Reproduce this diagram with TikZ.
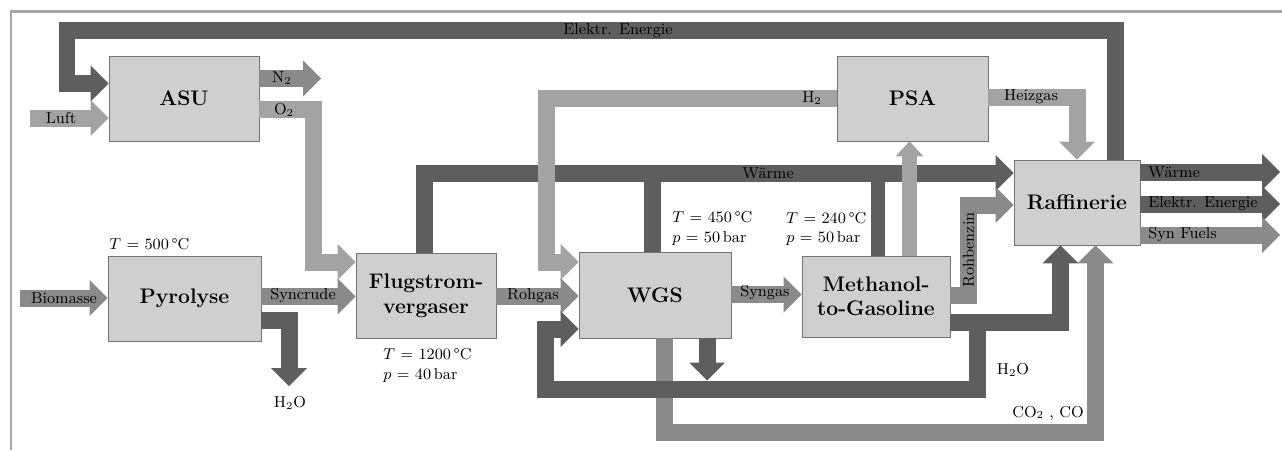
\documentclass[tikz,border=0pt]{standalone}
\usepackage{fontspec}
\usetikzlibrary{arrows.meta}
\tikzset{
  unit/.style = {draw=black!55, fill=black!19, font=\bfseries\large, align=center, inner sep=0pt},
  flow/.style = {line width=0.34cm, line join=miter},
  narrow/.style = {line width=0.28cm, line join=miter},
  dark/.style = {draw=black!63},
  mid/.style = {draw=black!46},
  light/.style = {draw=black!36},
  head/.style = {-{Triangle[width=0.72cm, length=0.36cm, line width=0pt]}},
  small head/.style = {-{Triangle[width=0.56cm, length=0.3cm, line width=0pt]}},
  lbl/.style = {font=\small, inner sep=0pt},
  cond/.style = {font=\small, inner sep=0pt, anchor=west, align=left},
}
\begin{document}
\begin{tikzpicture}[x = 0.02cm, y = -0.02cm]
	\useasboundingbox (0,0) rectangle (1282,450);
	\draw [black!35, line width=0.06cm] (11,450) |- (1282,11);
	% Anlagen
	\node [unit, minimum width=3cm, minimum height=1.7cm] (asu) at (184,98.5) {ASU};
	\node [unit, minimum width=3.06cm, minimum height=1.7cm] (pyr) at (184.5,298.5) {Pyrolyse};
	\node [unit, minimum width=2.8cm, minimum height=1.7cm] (flug) at (426,295.5) {Flugstrom-\\vergaser};
	\node [unit, minimum width=3.04cm, minimum height=1.72cm] (wgs) at (655,295) {WGS};
	\node [unit, minimum width=2.96cm, minimum height=1.62cm] (mtg) at (876,296.5) {Methanol-\\to-Gasoline};
	\node [unit, minimum width=3.02cm, minimum height=1.7cm] (psa) at (912.5,98.5) {PSA};
	\node [unit, minimum width=2.52cm, minimum height=1.7cm] (raf) at (1077,202.5) {Raffinerie};
	% freie Enden
	\coordinate (luft) at (30,118);
	\coordinate (bio) at (20,298);
	\coordinate (stick) at (321,78.5);
	\coordinate (wasser) at (289,386);
	\coordinate (split) at (977,322.5);
	\coordinate (kond) at (707,380.5);
	\coordinate (waerme) at (1280,172);
	\coordinate (strom) at (1280,204);
	\coordinate (fuels) at (1280,235);
	% Stroeme links
	\draw [flow,dark,head] (raf.north -| 1115,0) |- (67,30.5) |- (asu.west |- 0,83.5);
	\draw [flow,light,head] (luft) -- (luft -| asu.west);
	\draw [flow,mid,head] (stick -| asu.east) -- (stick);
	\draw [flow,light,head] (asu.east |- 0,109) -| (313,262) -- (flug.west |- 0,262);
	\draw [flow,mid,head] (bio) -- (bio -| pyr.west);
	\draw [flow,mid,head] (pyr.east |- 0,296.5) -- (flug.west |- 0,296.5);
	\draw [flow,dark,head] (pyr.east |- 0,320.5) -| (wasser);
	% Waerme
	\draw [flow,dark,head] (flug.north -| 424.5,0) |- (raf.west |- 0,173);
	\draw [flow,dark] (wgs.north -| 652,0) -- (652,173);
	\draw [narrow,dark] (mtg.north -| 877.5,0) -- (877.5,173);
	% Wasserstoff und Gase
	\draw [flow,light,head] (psa.west |- 0,98) -| (546.5,262) -- (wgs.west |- 0,262);
	\draw [line width=0.3cm,light,small head] (mtg.north -| 909.5,0) -- (psa.south -| 909.5,0);
	\draw [flow,mid,head] (flug.east |- 0,296) -- (wgs.west |- 0,296);
	\draw [flow,mid,head] (wgs.east |- 0,294.5) -- (mtg.west |- 0,294.5);
	\draw [flow,light,head] (psa.east |- 0,97) -| (raf.north);
	\draw [flow,mid,head] (mtg.east |- 0,295.5) -| (968.5,205) -- (raf.west |- 0,205);
	% Rueckfuehrung
	\draw [flow,mid,head] (wgs.south -| 664.5,0) |- (1095.5,432) -- (raf.south -| 1095.5,0);
	\draw [flow,dark,head] (mtg.east |- 0,322.5) -| (raf.south -| 1060.5,0);
	\draw [flow,dark,head] (split) -- (977,389) -| (545.5,329) -- (wgs.west |- 0,329);
	\draw [flow,dark,head] (wgs.south -| kond) -- (kond);
	% Produkte
	\draw [flow,dark,head] (waerme -| raf.east) -- (waerme);
	\draw [flow,dark,head] (strom -| raf.east) -- (strom);
	\draw [flow,mid,head] (fuels -| raf.east) -- (fuels);
	% Beschriftung
	\node [lbl] (l-el) at (618,31) {Elektr. Energie};
	\node [lbl] (l-luft) at (61,118) {Luft};
	\node [lbl] (l-n2) at (282,78) {N$_2$};
	\node [lbl] (l-o2) at (284,110) {O$_2$};
	\node [lbl] (l-bio) at (64,298) {Biomasse};
	\node [lbl] (l-sync) at (303,296) {Syncrude};
	\node [lbl] (l-wasser) at (290,403) {H$_2$O};
	\node [lbl] (l-roh) at (533,296) {Rohgas};
	\node [lbl] (l-waerme) at (768,173) {Wärme};
	\node [lbl] (l-h2) at (812,98) {H$_2$};
	\node [lbl] (l-syn) at (765,293) {Syngas};
	\node [lbl] (l-heiz) at (1031,97) {Heizgas};
	\node [lbl, rotate=90] (l-benz) at (968.5,250) {Rohbenzin};
	\node [lbl] (l-kond) at (1013,370) {H$_2$O};
	\node [lbl] (l-co) at (1048,413) {CO$_2$ , CO};
	\node [cond] (l-out1) at (1148,172) {Wärme};
	\node [cond] (l-out2) at (1148,204) {Elektr. Energie};
	\node [cond] (l-out3) at (1148,235) {Syn Fuels};
	\node [cond] (c-pyr) at (109,244) {$T$ = 500\,°C};
	\node [cond] (c-flug) at (383,365.5) {$T$ = 1200\,°C\\$p$ = 40\,bar};
	\node [cond] (c-wgs) at (672,228.5) {$T$ = 450\,°C\\$p$ = 50\,bar};
	\node [cond] (c-mtg) at (786,229) {$T$ = 240\,°C\\$p$ = 50\,bar};
\end{tikzpicture}
\end{document}
